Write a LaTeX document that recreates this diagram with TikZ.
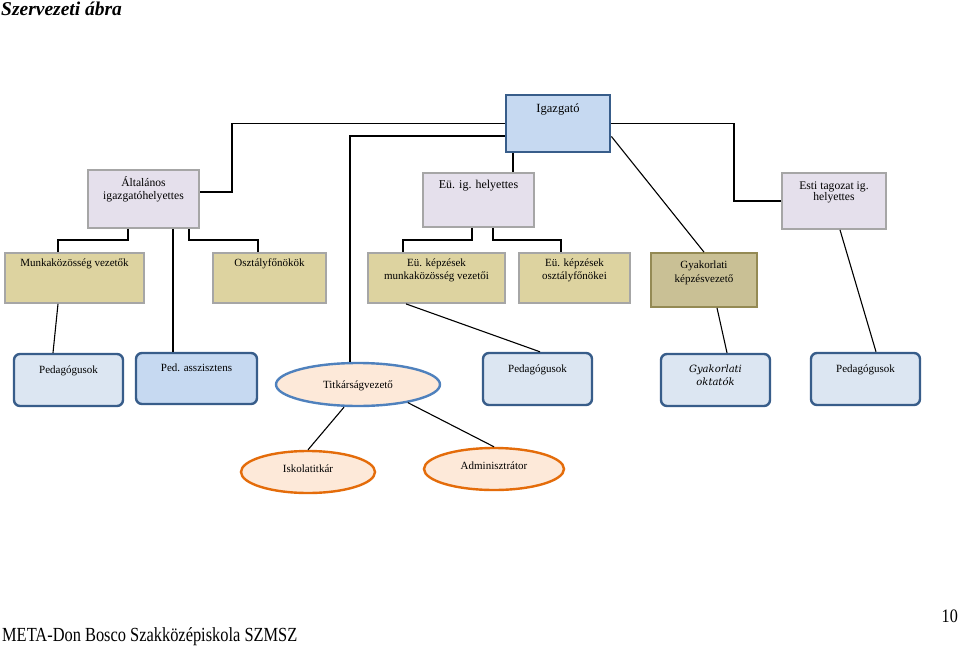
\documentclass[tikz,border=0pt]{standalone}
\usepackage{fontspec}
\setmainfont{Liberation Serif}
\newfontfamily\djserif{DejaVu Serif}
\usetikzlibrary{shapes.geometric}
\definecolor{lavfill}{HTML}{E5E0EC}
\definecolor{grayline}{HTML}{A6A6A6}
\definecolor{tanfill}{HTML}{DDD3A0}
\definecolor{olivefill}{HTML}{C9C095}
\definecolor{oliveline}{HTML}{948A54}
\definecolor{bluefill}{HTML}{C6D9F1}
\definecolor{palefill}{HTML}{DCE6F2}
\definecolor{darkblue}{HTML}{385D8A}
\definecolor{midblue}{HTML}{4F81BD}
\definecolor{peach}{HTML}{FDE9D9}
\definecolor{orangeline}{HTML}{E46C0A}
\tikzset{
  boxbase/.style={draw, inner sep=0pt, anchor=center},
  lav/.style={boxbase, fill=lavfill, draw=grayline, line width=1.8pt},
  tan/.style={boxbase, fill=tanfill, draw=grayline, line width=1.8pt},
  olive/.style={boxbase, fill=olivefill, draw=oliveline, line width=1.8pt},
  topbox/.style={boxbase, fill=bluefill, draw=darkblue, line width=2.8pt},
  pedbox/.style={boxbase, rounded corners=6pt, fill=palefill, draw=darkblue, line width=2.4pt},
  pabox/.style={boxbase, rounded corners=6pt, fill=bluefill, draw=darkblue, line width=2.4pt},
  oval/.style={ellipse, inner sep=0pt, fill=peach, line width=2.4pt},
  txt/.style={anchor=base, inner sep=0pt, align=center, font=\fontsize{11}{13.3}\selectfont},
  conn/.style={draw=black, line width=1.1pt},
}
\begin{document}
\begin{tikzpicture}[x=1pt,y=-1pt]
\useasboundingbox[fill=white] (0,0) rectangle (960,645);

% title and footer
\node[anchor=base west, inner sep=0pt, font=\fontsize{19.5}{20}\selectfont\bfseries\itshape] (title) at (1,15) {Szervezeti ábra};
\node[anchor=base west, inner sep=0pt, font=\fontsize{20}{22}\selectfont, xscale=0.82] (footer) at (2,641) {META-Don Bosco Szakközépiskola SZMSZ};
\node[anchor=base east, inner sep=0pt, font=\fontsize{19}{20}\selectfont, xscale=0.85] (pagenum) at (958,622) {10};

% boxes
\node[topbox, minimum width=104pt, minimum height=57pt] (igaz) at (558,123.5) {};
\node[lav, minimum width=111pt, minimum height=58pt] (alt) at (143.5,199) {};
\node[lav, minimum width=111pt, minimum height=54pt] (euig) at (478.5,200) {};
\node[lav, minimum width=104pt, minimum height=56pt] (esti) at (834,201) {};
\node[tan, minimum width=139pt, minimum height=50pt] (mkv) at (74.5,278) {};
\node[tan, minimum width=113pt, minimum height=50pt] (ofo) at (269.5,278) {};
\node[tan, minimum width=137pt, minimum height=50pt] (ekmv) at (436.5,278) {};
\node[tan, minimum width=111pt, minimum height=50pt] (ekof) at (574.5,278) {};
\node[olive, minimum width=106pt, minimum height=54pt] (gyk) at (704,280) {};
\node[pedbox, minimum width=109pt, minimum height=52pt] (pedA) at (68.5,380) {};
\node[pabox, minimum width=121pt, minimum height=51pt] (pa) at (196.5,378.5) {};
\node[oval, draw=midblue, minimum width=164pt, minimum height=43pt] (titk) at (358,384.5) {};
\node[pedbox, minimum width=109pt, minimum height=52pt] (pedB) at (537.5,379) {};
\node[pedbox, minimum width=109pt, minimum height=52pt] (gyo) at (715.5,380) {};
\node[pedbox, minimum width=109pt, minimum height=52pt] (pedC) at (865.5,379) {};
\node[oval, draw=orangeline, minimum width=134pt, minimum height=42pt] (isk) at (308,472) {};
\node[oval, draw=orangeline, minimum width=140pt, minimum height=42pt] (adm) at (494,469) {};

% texts (multi-line nodes: base = baseline of last line)
\node[txt, font=\fontsize{12.5}{14}\selectfont] (tigaz) at (558,112) {Igazgató};
\node[txt, font=\fontsize{11.6}{13.3}\selectfont] (talt) at (143.5,199.3) {Általános\\igazgatóhelyettes};
\node[txt, font=\fontsize{12}{14}\selectfont] (teuig) at (478.5,188.5) {Eü. ig. helyettes};
\node[txt, font=\fontsize{11.6}{11}\selectfont] (testi) at (834,200) {Esti tagozat ig.\\helyettes};
\node[txt] (tmkv) at (74.5,266.5) {Munkaközösség vezetők};
\node[txt] (tofo) at (269.5,266.5) {Osztályfőnökök};
\node[txt] (tekmv) at (436.5,279.3) {Eü. képzések\\munkaközösség vezetői};
\node[txt] (tekof) at (574.5,279.3) {Eü. képzések\\osztályfőnökei};
\node[txt] (tgyk) at (704,282) {Gyakorlati\\képzésvezető};
\node[txt] (tpedA) at (68.5,373.3) {Pedagógusok};
\node[txt] (tpa) at (196.5,371.7) {Ped. asszisztens};
\node[txt] (ttitk) at (358,388.3) {Titkárságvezető};
\node[txt] (tpedB) at (537.5,372.3) {Pedagógusok};
\node[txt, font=\fontsize{10}{12.3}\selectfont\djserif\itshape] (tgyo) at (715.5,385) {Gyakorlati\\oktatók};
\node[txt] (tpedC) at (865.5,372) {Pedagógusok};
\node[txt] (tisk) at (308,472.3) {Iskolatitkár};
\node[txt] (tadm) at (494,469) {Adminisztrátor};

% connectors
\draw[conn] (igaz.west) -| (232,192) -- (alt.east |- 0,192);
\draw[conn] ([yshift=-12.5pt]igaz.west) -| ([xshift=-8pt]titk.north);
\draw[conn] (igaz.south -| 513,0) -- (euig.north -| 513,0);
\draw[conn] (igaz.east) -| (734,201) -- (esti.west);
\draw[conn] ([yshift=-13pt]igaz.east) -- (gyk.north);
\draw[conn] (alt.south -| 128,0) -- (128,240) -| (mkv.north -| 58,0);
\draw[conn] (alt.south -| 173,0) -- (pa.north -| 173,0);
\draw[conn] (alt.south -| 189,0) -- (189,240) -| (ofo.north -| 258,0);
\draw[conn] (euig.south -| 472,0) -- (472,240) -| (ekmv.north -| 403,0);
\draw[conn] (euig.south -| 493,0) -- (493,240) -| (ekof.north -| 561,0);
\draw[conn] (mkv.south -| 58,0) -- (pedA.north -| 53,0);
\draw[conn] (ekmv.south -| 406,0) -- (pedB.north -| 540,0);
\draw[conn] (gyk.south -| 717,0) -- (gyo.north -| 727,0);
\draw[conn] (esti.south -| 840,0) -- (pedC.north -| 876,0);
\draw[conn] (titk.south -| 344,0) -- (isk.north);
\draw[conn] (titk.-20) -- (adm.north);
\end{tikzpicture}
\end{document}
